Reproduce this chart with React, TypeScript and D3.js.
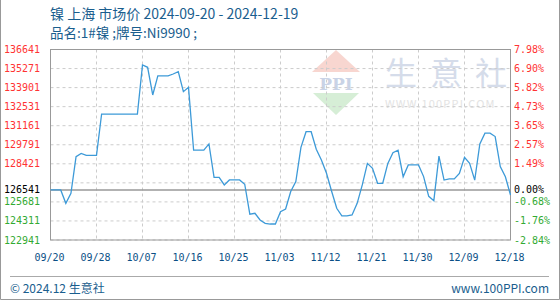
import React from "react";
import * as d3 from "d3";

const TITLE = "镍 上海 市场价 2024-09-20 - 2024-12-19";
const SUBTITLE = "品名:1#镍 ;牌号:Ni9990 ;";
const BASE = 126541;

// daily prices, 2024-09-20 .. 2024-12-19 (index 0..90)
const prices: number[] = [
  126541, 126541, 126541, 125580, 126300, 128930, 129170, 129030, 129030, 129030,
  132000, 132000, 132000, 132000, 132000, 132000, 132000, 132000, 135530, 135360,
  133370, 134740, 134740, 134740, 134880, 135050, 133610, 133920, 129410, 129410,
  129410, 129850, 127450, 127450, 126900, 127260, 127260, 127260, 126950, 124800,
  124860, 124380, 124140, 124090, 124090, 124980, 125170, 126430, 127150, 129600,
  130730, 130730, 129470, 128700, 127740, 126450, 125220, 124670, 124670, 124740,
  125580, 126900, 128450, 128100, 127020, 127020, 128450, 129220, 129400, 127490,
  128340, 128340, 128340, 127500, 126080, 125770, 128980, 127250, 127330, 127330,
  127730, 128890, 128450, 127250, 129850, 130620, 130620, 130380, 128220, 127490,
  126180,
];

const xTickIdx: number[] = [0, 9, 18, 27, 36, 45, 54, 63, 72, 81, 90];
const xTickLabels: string[] = ["09/20", "09/28", "10/07", "10/16", "10/25", "11/03", "11/12", "11/21", "11/30", "12/09", "12/18"];

const gridValues: number[] = [122941, 124311, 125681, 127051, 128421, 129791, 131161, 132531, 133901, 135271, 136641];
const labelValues: number[] = [136641, 135271, 133901, 132531, 131161, 129791, 128421, 126541, 125681, 124311, 122941];

const W = 560;
const H = 300;
const L = 50.5;
const R = 510.5;
const T = 49.5;
const B = 240;

const RED = "#ff3333";
const GREEN = "#33aa33";
const BLUE_TEXT = "#1a5e8e";
const MONO = "'DejaVu Sans Mono', 'Liberation Mono', monospace";
const SANS = "'Noto Sans CJK SC', 'Noto Sans', sans-serif";

export default function App() {
  const x = d3.scaleLinear().domain([0, prices.length - 1]).range([L, R]);
  const y = d3.scaleLinear().domain([122941, 136641]).range([B, T]);
  const line = d3
    .line<number>()
    .x((_, i) => x(i))
    .y((d) => y(d));

  const colorFor = (v: number) => (v > BASE ? RED : v < BASE ? GREEN : "#000");
  const pct = (v: number) => ((v - BASE) / BASE * 100).toFixed(2) + "%";

  return (
    <svg
      width={W}
      height={H}
      style={{ position: "absolute", left: 0, top: 0, background: "#fff" }}
    >
      <rect x={0} y={0} width={W} height={H} fill="#fff" />
      {/* outer frame */}
      <path d={`M0.5,0 V${H - 0.5} H${W - 0.5} V0`} fill="none" stroke="#999" />

      {/* title */}
      <text x={50} y={19} fontFamily={SANS} fontSize={14} fill={BLUE_TEXT} style={{ whiteSpace: "pre" }}>
        {TITLE}
      </text>
      <text x={50} y={38} fontFamily={SANS} fontSize={13.5} fill={BLUE_TEXT} style={{ whiteSpace: "pre" }}>
        {SUBTITLE}
      </text>

      {/* watermark */}
      <g>
        <path d="M336,50 L360,72 L312,72 Z" fill="#f8d6d0" />
        <text x={336} y={90} textAnchor="middle" fontFamily="'DejaVu Serif', serif" fontSize={17} fontWeight="bold" fill="#c9d3e6">
          PPI
        </text>
        <path d="M313,93 L359,93 L336,115 Z" fill="#d6eed6" />
        <text x={385} y={85} fontFamily={SANS} fontSize={32} fill="#d5dcea">
          生
        </text>
        <text x={430} y={85} fontFamily={SANS} fontSize={32} fill="#d5dcea">
          意
        </text>
        <text x={475} y={85} fontFamily={SANS} fontSize={32} fill="#d5dcea">
          社
        </text>
        <text x={385} y={108} fontFamily={SANS} fontSize={11} fill="#e3e3e3" letterSpacing={1.2}>
          WWW.100PPI.COM
        </text>
      </g>

      {/* horizontal grid */}
      {gridValues.map((v) => (
        <line key={"h" + v} x1={L} x2={R} y1={y(v)} y2={y(v)} stroke="#cccccc" strokeDasharray="3,3" />
      ))}
      {/* vertical grid */}
      {xTickIdx.map((i) => (
        <line key={"v" + i} x1={x(i)} x2={x(i)} y1={T} y2={B} stroke="#cccccc" strokeDasharray="3,3" />
      ))}

      {/* frame */}
      <rect x={L} y={T} width={R - L} height={B - T} fill="none" stroke="#999" />
      {/* base line */}
      <line x1={L} x2={R} y1={y(BASE)} y2={y(BASE)} stroke="#999" strokeWidth={1.5} />

      {/* price line */}
      <path d={line(prices) || ""} fill="none" stroke="#3d9ad8" strokeWidth={1.3} />

      {/* left labels */}
      {labelValues.map((v) => (
        <text
          key={"l" + v}
          x={40}
          y={y(v)}
          dy="0.35em"
          textAnchor="end"
          fontFamily={MONO}
          fontSize={10}
          fill={colorFor(v)}
        >
          {v}
        </text>
      ))}
      {/* right labels */}
      {labelValues.map((v) => (
        <text
          key={"r" + v}
          x={514}
          y={y(v)}
          dy="0.35em"
          fontFamily={MONO}
          fontSize={10}
          fill={colorFor(v)}
        >
          {pct(v)}
        </text>
      ))}

      {/* x labels */}
      {xTickIdx.map((i, k) => (
        <text
          key={"x" + i}
          x={x(i) - 1}
          y={261}
          textAnchor="middle"
          fontFamily={MONO}
          fontSize={10}
          fill="#0b4f86"
        >
          {xTickLabels[k]}
        </text>
      ))}

      {/* footer */}
      <line x1={10} x2={549} y1={276.5} y2={276.5} stroke="#aaa" />
      <text x={10} y={293} fontFamily={SANS} fontSize={12} fill={BLUE_TEXT}>
        © 2024.12 生意社
      </text>
      <text x={549} y={293} textAnchor="end" fontFamily={SANS} fontSize={12} fill={BLUE_TEXT}>
        www.100PPI.com
      </text>
    </svg>
  );
}
